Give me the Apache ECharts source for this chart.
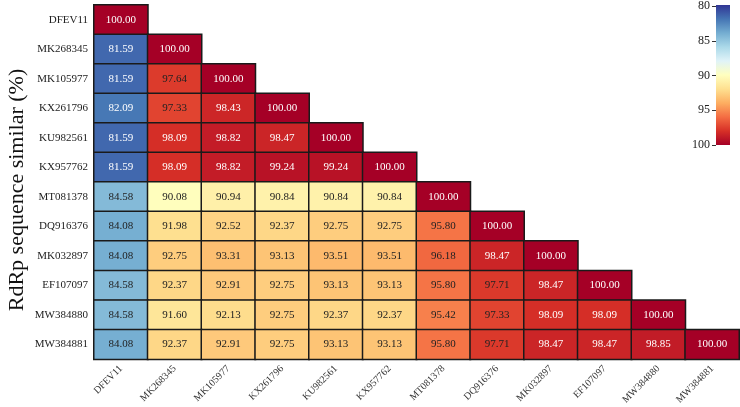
<!DOCTYPE html>
<html>
<head>
<meta charset="utf-8">
<script src="https://cdn.jsdelivr.net/npm/echarts@6/dist/echarts.min.js"></script>
<style>html,body{margin:0;padding:0;background:#fff}#c{width:740px;height:407px}</style>
</head>
<body>
<div id="c"></div>
<script>
var labels = ['DFEV11','MK268345','MK105977','KX261796','KU982561','KX957762','MT081378','DQ916376','MK032897','EF107097','MW384880','MW384881'];
var rows = [
  [100.00],
  [81.59, 100.00],
  [81.59, 97.64, 100.00],
  [82.09, 97.33, 98.43, 100.00],
  [81.59, 98.09, 98.82, 98.47, 100.00],
  [81.59, 98.09, 98.82, 99.24, 99.24, 100.00],
  [84.58, 90.08, 90.94, 90.84, 90.84, 90.84, 100.00],
  [84.08, 91.98, 92.52, 92.37, 92.75, 92.75, 95.80, 100.00],
  [84.08, 92.75, 93.31, 93.13, 93.51, 93.51, 96.18, 98.47, 100.00],
  [84.58, 92.37, 92.91, 92.75, 93.13, 93.13, 95.80, 97.71, 98.47, 100.00],
  [84.58, 91.60, 92.13, 92.75, 92.37, 92.37, 95.42, 97.33, 98.09, 98.09, 100.00],
  [84.08, 92.37, 92.91, 92.75, 93.13, 93.13, 95.80, 97.71, 98.47, 98.47, 98.85, 100.00]
];
var scaleMin = 80, scaleMax = 100, scaleStep = 5;
var palette = ['#313695','#4575b4','#74add1','#abd9e9','#e0f3f8','#ffffbf','#fee090','#fdae61','#f46d43','#d73027','#a50026'];

var data = [];
rows.forEach(function(r, yi){ r.forEach(function(v, xi){
  var dark = v >= 98 || v <= 83;
  data.push({value: [xi, yi, v], label: {color: dark ? '#fff' : '#222'}});
}); });

var serif = 'Liberation Serif';
var barLeft = 716, barTop = 5, barW = 14, barH = 140;
var stops = palette.map(function(c, i){ return {offset: i / (palette.length - 1), color: c}; });

var chart = echarts.init(document.getElementById('c'));
chart.setOption({
  animation: false,
  grid: [
    {left: 94, top: 5, width: 645, height: 357},
    {left: barLeft, top: barTop, width: barW, height: barH}
  ],
  xAxis: [
    {type: 'category', data: labels, gridIndex: 0,
     axisLine: {show: false}, axisTick: {show: false}, splitLine: {show: false},
     axisLabel: {rotate: 45, fontFamily: serif, fontSize: 10, color: '#333', margin: 8, interval: 0}},
    {type: 'value', gridIndex: 1, show: false, min: 0, max: 1}
  ],
  yAxis: [
    {type: 'category', data: labels, inverse: true, gridIndex: 0,
     axisLine: {show: false}, axisTick: {show: false}, splitLine: {show: false},
     axisLabel: {fontFamily: serif, fontSize: 11, color: '#222', margin: 6, interval: 0}},
    {type: 'value', gridIndex: 1, min: scaleMin, max: scaleMax, interval: scaleStep, inverse: true,
     axisLine: {show: false}, splitLine: {show: false},
     axisTick: {show: true, length: 4, lineStyle: {color: '#333'}},
     axisLabel: {fontFamily: serif, fontSize: 12, color: '#222', margin: 6}}
  ],
  visualMap: {
    type: 'continuous', min: scaleMin, max: scaleMax, seriesIndex: 0,
    inRange: {color: palette}, show: false
  },
  graphic: [
    {type: 'text', x: 17, y: 190, rotation: Math.PI / 2,
     style: {text: 'RdRp sequence similar (%)', font: '22px "Liberation Serif"', fill: '#111', align: 'center', verticalAlign: 'middle'}},
    {type: 'rect', shape: {x: barLeft, y: barTop, width: barW, height: barH},
     style: {fill: new echarts.graphic.LinearGradient(0, 0, 0, 1, stops)}, z: 10}
  ],
  series: [
    {type: 'heatmap', xAxisIndex: 0, yAxisIndex: 0, data: data,
     itemStyle: {borderColor: '#1a1a1a', borderWidth: 1.5},
     label: {show: true, fontFamily: serif, fontSize: 11,
       formatter: function(p){ return p.value[2].toFixed(2); }},
     emphasis: {disabled: true}},
    {type: 'scatter', xAxisIndex: 1, yAxisIndex: 1, data: [], silent: true}
  ]
});
</script>
</body>
</html>
